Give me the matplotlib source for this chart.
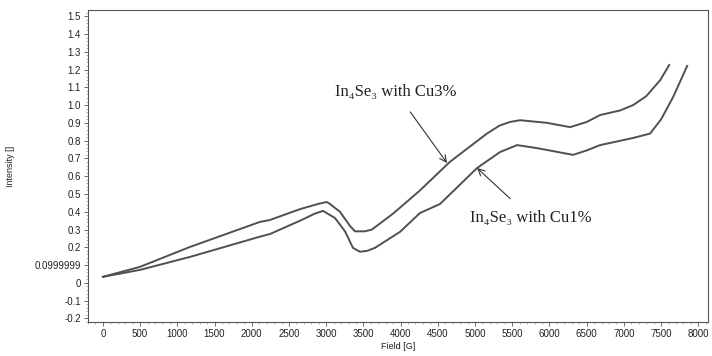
import matplotlib.pyplot as plt
from matplotlib.ticker import FixedLocator, MultipleLocator

# --- data ---
field_cu3 = [0, 497, 1169, 2110, 2245, 2650, 2900, 3010, 3050, 3185, 3320, 3387, 3520, 3615,
             3900, 4260, 4660, 5160, 5330, 5470, 5605, 5968, 6277, 6500, 6680, 6950, 7124, 7300, 7487, 7608]
int_cu3 = [0.034, 0.090, 0.202, 0.343, 0.354, 0.415, 0.445, 0.455, 0.444, 0.400, 0.320, 0.290, 0.290, 0.300,
           0.390, 0.520, 0.680, 0.840, 0.885, 0.905, 0.915, 0.900, 0.876, 0.905, 0.944, 0.970, 1.000, 1.050, 1.140, 1.225]

field_cu1 = [0, 497, 1169, 2110, 2245, 2650, 2850, 2957, 3118, 3253, 3360, 3454, 3548, 3655,
             3992, 4260, 4530, 5027, 5336, 5565, 5833, 6317, 6500, 6680, 7124, 7352, 7500, 7661, 7850]
int_cu1 = [0.034, 0.073, 0.146, 0.260, 0.275, 0.350, 0.390, 0.405, 0.365, 0.290, 0.197, 0.175, 0.180, 0.197,
           0.287, 0.393, 0.444, 0.646, 0.736, 0.775, 0.758, 0.720, 0.745, 0.775, 0.815, 0.840, 0.920, 1.045, 1.220]

y_ticks = [-0.2, -0.1, 0, 0.1, 0.2, 0.3, 0.4, 0.5, 0.6, 0.7, 0.8, 0.9, 1.0, 1.1, 1.2, 1.3, 1.4, 1.5]
y_labels = ["-0.2", "-0.1", "0", "0.0999999", "0.2", "0.3", "0.4", "0.5", "0.6", "0.7",
            "0.8", "0.9", "1.0", "1.1", "1.2", "1.3", "1.4", "1.5"]
x_ticks = list(range(0, 8001, 500))

# --- plotting ---
fig = plt.figure(figsize=(7.12, 3.56), dpi=100)
ax = fig.add_axes([0.1236, 0.0955, 0.8708, 0.8765])

line_col = "#505050"
ax.plot(field_cu3, int_cu3, color=line_col, linewidth=1.4)
ax.plot(field_cu1, int_cu1, color=line_col, linewidth=1.4)

ax.set_xlim(-200, 8130)
ax.set_ylim(-0.22, 1.535)

ax.yaxis.set_major_locator(FixedLocator(y_ticks))
ax.set_yticklabels(y_labels)
ax.yaxis.set_minor_locator(MultipleLocator(0.02))
ax.set_xticks(x_ticks)
ax.xaxis.set_minor_locator(MultipleLocator(100))

for lab in ax.get_xticklabels() + ax.get_yticklabels():
    lab.set_fontproperties("Liberation Sans")
    lab.set_fontsize(7)
    lab.set_color("#222222")

ax.tick_params(which="major", length=3, width=0.6, color="#555555", pad=2)
ax.tick_params(which="minor", length=1.5, width=0.4, color="#777777")
for sp in ax.spines.values():
    sp.set_color("#555555")
    sp.set_linewidth(0.8)

ax.set_xlabel("Field [G]", fontsize=6.5, family="Liberation Sans", color="#222222", labelpad=2)
ax.set_ylabel("Intensity []", fontsize=6.5, family="Liberation Sans", color="#222222", labelpad=14)

# --- annotations ---
serif = dict(family=["Liberation Serif", "DejaVu Serif"], fontsize=12, color="#222222")
ax.annotate("In\u2084Se\u2083 with Cu3%", xy=(4624, 0.674), xytext=(3938, 1.073),
            ha="center", va="center", **serif,
            arrowprops=dict(arrowstyle="->", color="#333333", lw=0.8, shrinkA=8, shrinkB=0))
ax.annotate("In\u2084Se\u2083 with Cu1%", xy=(5027, 0.646), xytext=(5753, 0.365),
            ha="center", va="center", **serif,
            arrowprops=dict(arrowstyle="->", color="#333333", lw=0.8, shrinkA=9, shrinkB=0))

plt.savefig("out.png", dpi=100)
